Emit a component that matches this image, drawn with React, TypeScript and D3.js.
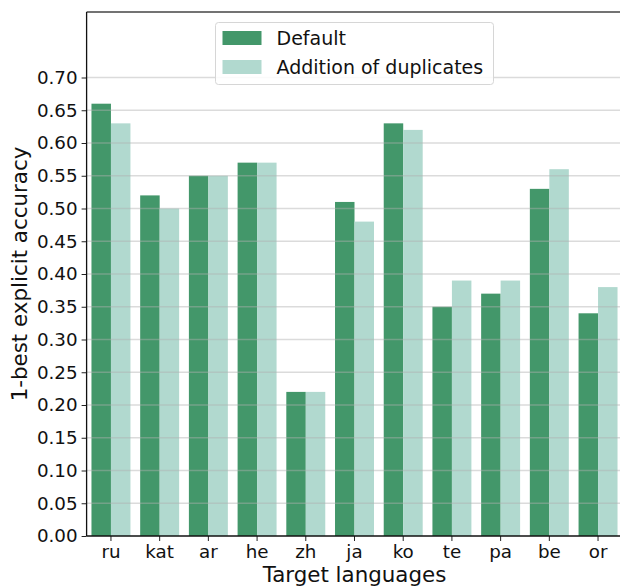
import React, { useEffect, useRef } from "react";
import * as d3 from "d3";

// values
const languages = ["ru", "kat", "ar", "he", "zh", "ja", "ko", "te", "pa", "be", "or"];
const defaultAcc = [0.66, 0.52, 0.55, 0.57, 0.22, 0.51, 0.63, 0.35, 0.37, 0.53, 0.34];
const duplicatesAcc = [0.63, 0.5, 0.55, 0.57, 0.22, 0.48, 0.62, 0.39, 0.39, 0.56, 0.38];
const seriesNames = ["Default", "Addition of duplicates"];
const yTicks = [0, 0.05, 0.1, 0.15, 0.2, 0.25, 0.3, 0.35, 0.4, 0.45, 0.5, 0.55, 0.6, 0.65, 0.7];

const colors = ["#43976a", "#b1d9cf"];
const font = "DejaVu Sans, sans-serif";

export default function App() {
  const ref = useRef<SVGSVGElement>(null);

  useEffect(() => {
    const svg = d3.select(ref.current);
    svg.selectAll("*").remove();

    const width = 620;
    const left = 86.6;
    const right = 622.4;
    const top = 12;
    const bottom = 536;

    const x = d3.scaleBand<string>().domain(languages).range([left, right]).paddingInner(0.2).paddingOuter(0.1);
    const inner = d3.scaleBand<number>().domain([0, 1]).range([0, x.bandwidth()]);
    const y = d3.scaleLinear().domain([0, 0.8]).range([bottom, top]);

    const rows = languages.map((l, i) => ({ lang: l, vals: [defaultAcc[i], duplicatesAcc[i]] }));

    const bars = svg.append("g");
    rows.forEach((r) => {
      r.vals.forEach((v, k) => {
        bars
          .append("rect")
          .attr("x", x(r.lang)! + inner(k)!)
          .attr("y", y(v))
          .attr("width", inner.bandwidth())
          .attr("height", y(0) - y(v))
          .attr("fill", colors[k]);
      });
    });

    // grid drawn over the bars, like the reference
    svg
      .append("g")
      .selectAll("line")
      .data(yTicks.slice(1))
      .enter()
      .append("line")
      .attr("x1", left)
      .attr("x2", width)
      .attr("y1", (d) => y(d))
      .attr("y2", (d) => y(d))
      .attr("stroke", "#b0b0b0")
      .attr("stroke-opacity", 0.45)
      .attr("stroke-width", 1.3);

    // y axis
    const yAxis = svg.append("g").attr("transform", `translate(${left},0)`)
      .call(d3.axisLeft(y).tickValues(yTicks).tickFormat(d3.format(".2f")).tickSize(5).tickPadding(4));
    yAxis.select(".domain").remove();
    yAxis.selectAll("line").attr("stroke", "#222");
    yAxis.selectAll("text").attr("font-family", font).attr("font-size", 18.3).attr("fill", "#111");

    // x axis
    const xAxis = svg.append("g").attr("transform", `translate(0,${bottom})`)
      .call(d3.axisBottom(x).tickSize(5).tickPadding(4));
    xAxis.select(".domain").remove();
    xAxis.selectAll("line").attr("stroke", "#222");
    xAxis.selectAll("text").attr("font-family", font).attr("font-size", 18.3).attr("fill", "#111");

    // spines
    svg.append("line").attr("x1", left).attr("x2", width).attr("y1", top).attr("y2", top)
      .attr("stroke", "#444").attr("stroke-width", 1.3);
    svg.append("line").attr("x1", left).attr("x2", left).attr("y1", top).attr("y2", bottom)
      .attr("stroke", "#111").attr("stroke-width", 1.3);
    svg.append("line").attr("x1", left).attr("x2", width).attr("y1", bottom).attr("y2", bottom)
      .attr("stroke", "#111").attr("stroke-width", 1.3);

    // axis titles
    svg.append("text")
      .attr("x", (left + right) / 2)
      .attr("y", 582)
      .attr("text-anchor", "middle")
      .attr("font-family", font)
      .attr("font-size", 21.4)
      .attr("fill", "#111")
      .text("Target languages");

    svg.append("text")
      .attr("transform", `translate(27,${(top + bottom) / 2}) rotate(-90)`)
      .attr("text-anchor", "middle")
      .attr("font-family", font)
      .attr("font-size", 21.4)
      .attr("fill", "#111")
      .text("1-best explicit accuracy");

    // legend
    const lg = svg.append("g").attr("transform", "translate(215.5,22.5)");
    lg.append("rect").attr("width", 278).attr("height", 62).attr("rx", 3)
      .attr("fill", "white").attr("fill-opacity", 0.85).attr("stroke", "#d6d6d6");
    seriesNames.forEach((name, i) => {
      lg.append("rect").attr("x", 7).attr("y", 8.5 + i * 29).attr("width", 39).attr("height", 14)
        .attr("fill", colors[i]);
      lg.append("text").attr("x", 61).attr("y", 22.5 + i * 28.5)
        .attr("font-family", font).attr("font-size", 19).attr("fill", "#111").text(name);
    });
  }, []);

  return <svg ref={ref} width={620} height={588} style={{ position: "absolute", left: 0, top: 0 }} />;
}
